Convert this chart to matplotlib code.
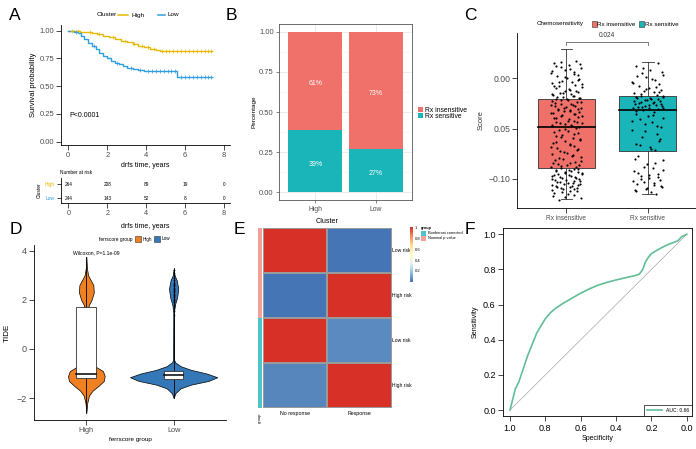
import numpy as np
import matplotlib.pyplot as plt
from matplotlib.colors import LinearSegmentedColormap, ListedColormap
from matplotlib.patches import Rectangle
from matplotlib.lines import Line2D

plt.rcParams['font.family'] = ['Liberation Sans', 'DejaVu Sans']

# ---- A : Kaplan-Meier ----
km_high_t = [0, 0.3, 0.6, 0.9, 1.2, 1.5, 1.8, 2.1, 2.4, 2.7, 3.0, 3.3, 3.6, 3.9, 4.2, 4.5, 4.7, 7.4]
km_high_s = [1.0, 0.995, 0.99, 0.985, 0.975, 0.965, 0.955, 0.94, 0.925, 0.91, 0.895, 0.88, 0.865,
             0.85, 0.835, 0.825, 0.812, 0.812]
km_low_t = [0, 0.3, 0.5, 0.65, 0.8, 1.0, 1.2, 1.4, 1.6, 1.8, 2.0, 2.2, 2.4, 2.6, 2.8, 3.0, 3.3,
            3.6, 3.9, 5.6, 7.4]
km_low_s = [1.0, 0.99, 0.975, 0.95, 0.92, 0.89, 0.86, 0.83, 0.80, 0.775, 0.75, 0.73, 0.71, 0.695,
            0.68, 0.665, 0.655, 0.645, 0.635, 0.578, 0.578]
cens_high = [0.2, 0.5, 1.1, 1.6, 2.3, 2.9, 3.4, 3.8, 4.1, 4.4, 4.8, 5.0, 5.2, 5.4, 5.6, 5.8, 6.0,
             6.2, 6.4, 6.6, 6.8, 7.0, 7.2, 7.35]
cens_low = [0.4, 1.3, 2.5, 3.2, 3.7, 4.1, 4.3, 4.5, 4.7, 4.9, 5.1, 5.3, 5.5, 5.8, 6.0, 6.2, 6.4,
            6.6, 6.8, 7.0, 7.2, 7.35]
risk_times = [0, 2, 4, 6, 8]
risk_high = [264, 208, 89, 19, 0]
risk_low = [244, 143, 52, 8, 0]

# ---- B : stacked percentage bars ----
b_groups = ['High', 'Low']
b_sensitive = [0.39, 0.27]
b_insensitive = [0.61, 0.73]
b_lab_sens = ['39%', '27%']
b_lab_insens = ['61%', '73%']

# ---- C : score boxplots ----
c_groups = ['Rx insensitive', 'Rx sensitive']
c_stats = [  # whislo, q1, med, q3, whishi
    [-0.120, -0.0895, -0.048, -0.0206, 0.0288],
    [-0.115, -0.0723, -0.0315, -0.0176, 0.0159],
]
c_insens = [0.017, 0.015, 0.013, 0.011, 0.010, 0.008, 0.006, 0.005, 0.003, 0.002, 0.000, -0.001,
            -0.003, -0.004, -0.005, -0.007, -0.008, -0.009, -0.010, -0.012, -0.013, -0.014,
            -0.015, -0.016, -0.017, -0.018, -0.019, -0.020,
            -0.021, -0.022, -0.023, -0.024, -0.026, -0.027, -0.028, -0.029, -0.030, -0.031,
            -0.032, -0.033, -0.034, -0.035, -0.036, -0.038, -0.039, -0.040, -0.041, -0.042,
            -0.043, -0.044, -0.045, -0.046, -0.047,
            -0.049, -0.051, -0.052, -0.054, -0.056, -0.057, -0.059, -0.061, -0.062, -0.064,
            -0.066, -0.067, -0.069, -0.071, -0.072, -0.074, -0.075, -0.077, -0.078, -0.080,
            -0.081, -0.083, -0.084, -0.085, -0.086, -0.087, -0.088,
            -0.090, -0.091, -0.092, -0.093, -0.094, -0.095, -0.096, -0.097, -0.098, -0.099,
            -0.100, -0.101, -0.102, -0.103, -0.104, -0.105, -0.106, -0.107, -0.108, -0.109,
            -0.110, -0.111, -0.112, -0.113, -0.115, -0.117, -0.119, -0.121]
c_insens_2 = [0.016, 0.014, 0.012, 0.009, 0.007, 0.004, 0.001, -0.002, -0.004, -0.006, -0.008,
              -0.011, -0.013, -0.015, -0.016, -0.018, -0.019, -0.020, -0.021, -0.022, -0.024,
              -0.025,
              -0.026, -0.027, -0.028, -0.030, -0.031, -0.032, -0.033, -0.035, -0.036, -0.037,
              -0.038, -0.040, -0.042, -0.043, -0.044, -0.046, -0.047, -0.048,
              -0.050, -0.053, -0.055, -0.058, -0.060, -0.063, -0.065, -0.068, -0.070, -0.073,
              -0.076, -0.079, -0.082, -0.084, -0.086, -0.088, -0.089,
              -0.090, -0.091, -0.092, -0.093, -0.094, -0.095, -0.096, -0.097, -0.098, -0.099,
              -0.100, -0.101, -0.102, -0.103, -0.104, -0.105, -0.106, -0.107, -0.108, -0.109,
              -0.110, -0.112, -0.114, -0.116, -0.118]
c_sens = [0.015, 0.012, 0.008, 0.005, 0.003, 0.001, -0.002, -0.004, -0.006, -0.008, -0.010,
          -0.012, -0.013, -0.014, -0.015, -0.017,
          -0.018, -0.019, -0.020, -0.021, -0.022, -0.023, -0.024, -0.025, -0.026, -0.027,
          -0.028, -0.028, -0.029, -0.030, -0.030, -0.031,
          -0.032, -0.034, -0.036, -0.038, -0.040, -0.041, -0.043, -0.045, -0.048, -0.051,
          -0.055, -0.058, -0.062, -0.065, -0.068, -0.071,
          -0.077, -0.081, -0.085, -0.089, -0.092, -0.095, -0.097, -0.099, -0.101, -0.103,
          -0.105, -0.106, -0.108, -0.110, -0.111, -0.113, -0.115]
c_sens_2 = [0.010, 0.006, 0.002, -0.001, -0.005, -0.009, -0.011, -0.014, -0.016,
            -0.018, -0.019, -0.020, -0.021, -0.022, -0.023, -0.024, -0.025, -0.026, -0.027,
            -0.029, -0.030,
            -0.033, -0.037, -0.042, -0.047, -0.052, -0.060, -0.066, -0.070,
            -0.080, -0.084, -0.088, -0.091, -0.094, -0.096, -0.098, -0.100, -0.102, -0.104,
            -0.107, -0.109, -0.112]
c_jitter = [0.12, -0.15, 0.03, -0.07, 0.18, -0.02, 0.09, -0.19, 0.14, -0.11, 0.01, 0.16, -0.05,
            0.07, -0.17, 0.11, -0.09, 0.19, -0.13, 0.04, -0.01, 0.15, -0.08, 0.06, -0.16, 0.10,
            -0.04, 0.17, -0.12, 0.02, -0.18, 0.13, -0.06, 0.08, -0.14, 0.00, 0.18, -0.10, 0.05,
            -0.03, 0.16, -0.19, 0.11, -0.07, 0.14, -0.15, 0.03, 0.09, -0.12, 0.19, -0.01, 0.06,
            -0.17, 0.12, -0.09, 0.02, 0.15, -0.05, -0.13, 0.08, 0.17, -0.02, -0.16, 0.04, 0.10,
            -0.11, 0.13, -0.08, 0.01, -0.18, 0.07, 0.18, -0.04, -0.14, 0.11, 0.05, -0.10, 0.16,
            -0.06, -0.19, 0.09, 0.03, -0.12, 0.14, -0.02, 0.19, -0.15, 0.06, -0.08, 0.12, -0.17,
            0.00, 0.17, -0.11, 0.08, -0.03, 0.15, -0.13, 0.04, -0.07, 0.10, -0.18, 0.13, -0.05,
            0.02, -0.16, 0.18, -0.09, 0.07, -0.01]
c_jitter_2 = [-0.06, 0.17, -0.13, 0.05, -0.18, 0.10, -0.02, 0.14, -0.09, 0.19, -0.15, 0.03,
              0.12, -0.04, -0.17, 0.08, -0.11, 0.16, 0.01, -0.07, 0.18, -0.14, 0.06, -0.19,
              0.11, -0.03, 0.15, -0.10, 0.04, -0.16, 0.09, -0.05, 0.19, -0.12, 0.02, 0.13,
              -0.08, -0.18, 0.07, 0.16, -0.01, -0.15, 0.10, -0.06, 0.17, -0.12, 0.04, -0.19,
              0.14, -0.03, 0.08, -0.09, 0.18, -0.16, 0.01, 0.12, -0.07, 0.15, -0.13, 0.06,
              -0.02, 0.19, -0.10, 0.03, -0.17, 0.11, -0.05, 0.16, -0.14, 0.09, -0.08, 0.02,
              0.17, -0.18, 0.07, -0.11, 0.13, -0.04, 0.05, -0.15, 0.10, -0.01]

# ---- D : TIDE violins ----
d_groups = ['High', 'Low']
vio_high_y = [-2.6, -2.2, -1.9, -1.7, -1.5, -1.3, -1.1, -0.9, -0.75, -0.6, -0.45, 0.0, 1.0, 1.5,
              1.8, 2.0, 2.3, 2.6, 2.8, 3.0, 3.3, 3.75]
vio_high_w = [0.0, 0.01, 0.03, 0.07, 0.14, 0.20, 0.21, 0.19, 0.12, 0.04, 0.012, 0.006, 0.006,
              0.012, 0.03, 0.06, 0.085, 0.08, 0.05, 0.02, 0.006, 0.0]
vio_low_y = [-2.0, -1.8, -1.6, -1.45, -1.3, -1.15, -1.0, -0.85, -0.7, -0.55, -0.45, 1.5, 1.8,
             2.1, 2.45, 2.8, 3.0, 3.25]
vio_low_w = [0.0, 0.02, 0.08, 0.20, 0.40, 0.50, 0.38, 0.20, 0.08, 0.02, 0.006, 0.004, 0.015,
             0.04, 0.053, 0.035, 0.01, 0.0]
d_box = [[-1.17, -1.0, 1.72], [-1.22, -1.07, -0.89]]  # q1, med, q3
d_line = [[-2.6, 3.75], [-2.0, 3.3]]
low_out = [1.38, 1.55, 1.7, 1.8, 1.9, 1.95, 2.0, 2.05, 2.1, 2.15, 2.2, 2.25, 2.3, 2.35, 2.4,
           2.45, 2.5, 2.55, 2.6, 2.65, 2.7, 2.8, 2.9, 3.0, 3.1, 3.2]

# ---- E : heatmap ----
e_rows = ['Low risk', 'High risk', 'Low risk', 'High risk']
e_cols = ['No response', 'Response']
e_vals = [[1.0, 0.0], [0.0, 1.0], [1.0, 0.05], [0.04, 1.0]]
e_group = [1, 1, 0, 0]  # 1 = Nominal p value, 0 = Bonferroni corrected

# ---- F : ROC ----
roc_spec = [1.0, 0.99, 0.98, 0.97, 0.95, 0.93, 0.91, 0.90, 0.88, 0.86, 0.85, 0.83, 0.80, 0.77,
            0.74, 0.70, 0.66, 0.60, 0.55, 0.50, 0.45, 0.40, 0.35, 0.30, 0.27, 0.255, 0.245,
            0.235, 0.22, 0.20, 0.17, 0.14, 0.10, 0.07, 0.05, 0.03, 0.0]
roc_sens = [0.0, 0.04, 0.08, 0.12, 0.16, 0.22, 0.28, 0.31, 0.36, 0.41, 0.436, 0.47, 0.52, 0.555,
            0.58, 0.607, 0.63, 0.665, 0.69, 0.711, 0.727, 0.74, 0.752, 0.763, 0.772, 0.79, 0.81,
            0.84, 0.865, 0.89, 0.908, 0.925, 0.944, 0.955, 0.963, 0.985, 1.0]

W, H = 696, 449
fig = plt.figure(figsize=(W / 100, H / 100), dpi=100)


def px_axes(x0, y0, x1, y1):
    return fig.add_axes([x0 / W, 1 - y1 / H, (x1 - x0) / W, (y1 - y0) / H])


def ftext(x, y, s, **kw):
    kw.setdefault('ha', 'center')
    kw.setdefault('va', 'center')
    fig.text(x / W, 1 - y / H, s, **kw)


def fline(x0, x1, y, **kw):
    fig.add_artist(Line2D([x0 / W, x1 / W], [1 - y / H, 1 - y / H], transform=fig.transFigure, **kw))


def fsquare(x, y, size, color, **kw):
    fig.add_artist(Rectangle((x / W, 1 - (y + size) / H), size / W, size / H,
                             transform=fig.transFigure, facecolor=color, **kw))


def classic(ax, fs, color='#4D4D4D'):
    for s in ['top', 'right']:
        ax.spines[s].set_visible(False)
    for s in ['left', 'bottom']:
        ax.spines[s].set_linewidth(0.6)
    ax.tick_params(labelsize=fs, width=0.5, length=3.5, pad=1.5, colors='black', labelcolor=color)


# panel letters
for lab, x, y in [('A', 15, 15), ('B', 231, 15), ('C', 470, 15),
                  ('D', 16, 230), ('E', 239, 230), ('F', 470, 230)]:
    ftext(x, y, lab, fontsize=12.5)

# ===== A =====
gold, blue = '#E7B800', '#2E9FDF'
ax = px_axes(61, 25, 230, 145)
ax.step(km_high_t, km_high_s, where='post', color=gold, lw=1.0)
ax.step(km_low_t, km_low_s, where='post', color=blue, lw=1.0)
for ct, tt, ss, col in [(cens_high, km_high_t, km_high_s, gold), (cens_low, km_low_t, km_low_s, blue)]:
    idx = np.searchsorted(tt, ct, side='right') - 1
    ax.plot(ct, np.array(ss)[idx], '+', color=col, ms=2.2, mew=0.5)
ax.set_xlim(-0.375, 8.31)
ax.set_ylim(-0.03, 1.05)
ax.set_xticks(risk_times)
ax.set_yticks([0, 0.25, 0.5, 0.75, 1.0])
ax.set_yticklabels(['0.00', '0.25', '0.50', '0.75', '1.00'])
classic(ax, 5.5)
ax.set_xlabel('drfs time, years', fontsize=5, labelpad=2)
ax.set_ylabel('Survival probability', fontsize=5.5, labelpad=2)
ax.text(0.05, 0.22, 'P<0.0001', fontsize=5)
ftext(97, 15, 'Cluster', fontsize=4.6, ha='left')
fline(118, 128, 15, color=gold, lw=1.1)
ftext(131, 15, 'High', fontsize=4.6, ha='left')
fline(158, 165, 15, color=blue, lw=1.1)
ftext(168, 15, 'Low', fontsize=4.6, ha='left')

# risk table
rt = px_axes(61, 178, 230, 203)
rt.set_xlim(-0.375, 8.31)
rt.set_ylim(-0.357, 1.43)
for t, a, b in zip(risk_times, risk_high, risk_low):
    rt.text(t, 1, str(a), fontsize=3.4, ha='center', va='center')
    rt.text(t, 0, str(b), fontsize=3.4, ha='center', va='center')
rt.set_xticks(risk_times)
rt.set_yticks([1, 0])
rt.set_yticklabels(['High', 'Low'])
classic(rt, 5.2)
rt.tick_params(axis='y', labelsize=3.5, length=3)
rt.get_yticklabels()[0].set_color(gold)
rt.get_yticklabels()[1].set_color(blue)
rt.set_ylabel('Cluster', fontsize=3.5, labelpad=2)
ftext(60, 173, 'Number at risk', fontsize=3.5, ha='left')
ftext(145, 226, 'drfs time, years', fontsize=5)

# ===== B =====
red, teal = '#EF7169', '#19B5B9'
bx = px_axes(279.3, 24, 411.7, 200)
xpos = np.arange(1, len(b_groups) + 1)
for yv in [0.125, 0.375, 0.625, 0.875]:
    bx.axhline(yv, color='#F4F4F4', lw=0.4, zorder=0)
for yv in [0, 0.25, 0.5, 0.75, 1.0]:
    bx.axhline(yv, color='#E8E8E8', lw=0.6, zorder=0)
for xv in xpos:
    bx.axvline(xv, color='#E8E8E8', lw=0.6, zorder=0)
bx.bar(xpos, b_sensitive, width=0.9, color=teal, zorder=2)
bx.bar(xpos, b_insensitive, bottom=b_sensitive, width=0.9, color=red, zorder=2)
for x, s, i, ls, li in zip(xpos, b_sensitive, b_insensitive, b_lab_sens, b_lab_insens):
    bx.text(x, s / 2 - 0.02, ls, color='white', fontsize=5, ha='center', va='center', zorder=3)
    bx.text(x, s + i / 2 - 0.02, li, color='white', fontsize=5, ha='center', va='center', zorder=3)
bx.set_xlim(0.4, 2.6)
bx.set_ylim(-0.048, 1.048)
bx.set_xticks(xpos)
bx.set_xticklabels(b_groups)
bx.set_yticks([0, 0.25, 0.5, 0.75, 1.0])
bx.set_yticklabels(['0.00', '0.25', '0.50', '0.75', '1.00'])
for s in bx.spines.values():
    s.set_color('#555555')
    s.set_linewidth(0.6)
bx.tick_params(labelsize=5.5, width=0.5, length=2.5, pad=1.5, labelcolor='#4D4D4D', color='#555555')
bx.tick_params(axis='x', labelsize=4.9)
bx.set_ylabel('Percentage', fontsize=4.6, labelpad=2)
fsquare(418.3, 107.3, 5, red)
fsquare(418.3, 113.3, 5, teal)
ftext(425, 110, 'Rx insensitive', fontsize=4.9, ha='left')
ftext(425, 116, 'Rx sensitive', fontsize=4.9, ha='left')

# ===== C =====
cx = px_axes(517.3, 33, 696.8, 208)
for i, (st, col) in enumerate(zip(c_stats, [red, teal])):
    x = i + 1
    lo, q1, med, q3, hi = st
    cx.plot([x, x], [lo, hi], color='#333333', lw=0.6, zorder=1)
    cx.plot([x - 0.07, x + 0.07], [lo, lo], color='#333333', lw=0.6, zorder=1)
    cx.plot([x - 0.07, x + 0.07], [hi, hi], color='#333333', lw=0.6, zorder=1)
    cx.add_patch(Rectangle((x - 0.35, q1), 0.7, q3 - q1, facecolor=col, edgecolor='#333333',
                           lw=0.6, zorder=2))
    cx.plot([x - 0.35, x + 0.35], [med, med], color='black', lw=1.2, zorder=3)
for yv, jit, base in [(c_insens, c_jitter, 1), (c_insens_2, c_jitter_2, 1),
                      (c_sens, c_jitter, 2), (c_sens_2, c_jitter_2, 2)]:
    cx.scatter(base + np.array(jit[:len(yv)]), yv, s=2.4, color='black', lw=0, zorder=4)
cx.plot([1, 1, 2, 2], [0.0331, 0.0364, 0.0364, 0.0331], color='#444444', lw=0.5)
cx.text(1.5, 0.0395, '0.024', fontsize=4.7, ha='center', va='bottom', color='#333333')
cx.set_xlim(0.4, 2.6)
cx.set_ylim(-0.129, 0.045)
cx.set_xticks([1, 2])
cx.set_xticklabels(c_groups)
cx.set_yticks([-0.10, -0.05, 0.0])
cx.set_yticklabels(['\u22120.10', '0.05', '0.00'])
classic(cx, 6.2)
cx.tick_params(axis='x', labelsize=4.7)
cx.set_ylabel('Score', fontsize=5.5, labelpad=3, color='#333333')
ftext(537, 24, 'Chemosensitivity', fontsize=4.5, ha='left')
fsquare(591.7, 21.5, 5, red, edgecolor='#333333', lw=0.4)
ftext(597, 24, 'Rx insensitive', fontsize=4.5, ha='left')
fsquare(639, 21.5, 5, teal, edgecolor='#333333', lw=0.4)
ftext(645, 24, 'Rx sensitive', fontsize=4.5, ha='left')

# ===== D =====
orange, dblue = '#F08122', '#3478B8'
dx = px_axes(34, 245, 226, 420)
for i, (vy, vw, col) in enumerate([(vio_high_y, vio_high_w, orange), (vio_low_y, vio_low_w, dblue)]):
    x = i + 1
    vy, vw = np.array(vy), np.array(vw)
    dx.fill_betweenx(vy, x - vw, x + vw, facecolor=col, edgecolor='black', lw=0.5, zorder=1)
    dx.plot([x, x], d_line[i], color='black', lw=0.6, zorder=2)
    q1, med, q3 = d_box[i]
    bw = 0.23 if i == 0 else 0.21
    dx.add_patch(Rectangle((x - bw / 2, q1), bw, q3 - q1, facecolor='white', edgecolor='#333333',
                           lw=0.6, zorder=3))
    dx.plot([x - bw / 2, x + bw / 2], [med, med], color='black', lw=1.1, zorder=4)
dx.scatter([2] * len(low_out), low_out, s=1.5, color='black', lw=0, zorder=2)
dx.text(1.11, 3.9, 'Wilcoxon, P=1.1e-09', fontsize=3.6, ha='center', va='center')
dx.set_xlim(0.4, 2.6)
dx.set_ylim(-2.89, 4.23)
dx.set_xticks([1, 2])
dx.set_xticklabels(d_groups)
dx.set_yticks([-2, 0, 2, 4])
classic(dx, 6.5)
dx.tick_params(axis='x', labelsize=5.3)
dx.set_xlabel('ferrscore group', fontsize=4.6, labelpad=2)
dx.set_ylabel('TIDE', fontsize=5.8, labelpad=4)
ftext(99, 239, 'ferrscore group', fontsize=3.5, ha='left')
fsquare(135, 236, 6, orange, edgecolor='#333333', lw=0.4)
ftext(143, 239, 'High', fontsize=3.3, ha='left')
fsquare(153.5, 236, 6, dblue, edgecolor='#333333', lw=0.4)
ftext(162, 239, 'Low', fontsize=3.3, ha='left')

# ===== E =====
cmap = LinearSegmentedColormap.from_list('rdylbu', ['#4575B4', '#91BFDB', '#E0F3F8', '#FFFFBF',
                                                     '#FEE090', '#FC8D59', '#D73027'])
ex = px_axes(262.7, 227.7, 391.7, 408.3)
mesh = ex.pcolormesh(np.array(e_vals), cmap=cmap, vmin=0, vmax=1, edgecolors='#9A9A9A', lw=0.3)
ex.set_ylim(len(e_rows), 0)
ex.set_axis_off()
for r, lab in enumerate(e_rows):
    ex.text(2.01, r + 0.5, lab, fontsize=3.6, ha='left', va='center')
for c, lab in enumerate(e_cols):
    ex.text(c + 0.5, 4.07, lab, fontsize=3.8, ha='center', va='top')
ex.text(1.0, -0.06, 'Cluster', fontsize=5.2, ha='center', va='bottom')
ga = px_axes(257.7, 227.7, 262, 408.3)
ga.pcolormesh(np.array(e_group).reshape(-1, 1), cmap=ListedColormap(['#4DC4C8', '#F4A09A']),
              vmin=0, vmax=1)
ga.set_ylim(len(e_group), 0)
ga.set_axis_off()
ftext(260, 418, 'group', fontsize=3, rotation=90)
cax = px_axes(410, 227.4, 413, 281.9)
cb = fig.colorbar(mesh, cax=cax, ticks=[0.2, 0.4, 0.6, 0.8, 1.0])
cb.outline.set_visible(False)
cb.ax.set_yticklabels(['0.2', '0.4', '0.6', '0.8', '1'])
cb.ax.tick_params(labelsize=3, length=0, pad=1.5)
ftext(420.7, 228, 'group', fontsize=2.8, ha='left', fontweight='bold')
fsquare(420.7, 230.5, 5, '#4DC4C8')
fsquare(420.7, 235.8, 5, '#F4A09A')
ftext(427.5, 233, 'Bonferroni corrected', fontsize=2.8, ha='left')
ftext(427.5, 238.3, 'Nominal p value', fontsize=2.8, ha='left')

# ===== F =====
green = '#62BE96'
fx = px_axes(503.3, 228.3, 691.7, 416)
fx.plot([1, 0], [0, 1], color='#A8A8A8', lw=0.5)
fx.plot(roc_spec, roc_sens, color=green, lw=1.2, label='AUC: 0.66')
fx.set_xlim(1.038, -0.028)
fx.set_ylim(-0.034, 1.034)
fx.set_xticks([1.0, 0.8, 0.6, 0.4, 0.2, 0.0])
fx.set_yticks([0.0, 0.2, 0.4, 0.6, 0.8, 1.0])
for s in fx.spines.values():
    s.set_linewidth(0.6)
fx.tick_params(labelsize=6.5, width=0.5, length=3.5, pad=2)
fx.set_xlabel('Specificity', fontsize=5, labelpad=2)
fx.set_ylabel('Sensitivity', fontsize=5.2, labelpad=3)
leg = fx.legend(loc='lower right', fontsize=3.6, frameon=True, fancybox=False, borderaxespad=0,
                handlelength=3, edgecolor='black', borderpad=0.6)
leg.get_frame().set_linewidth(0.6)

fig.savefig('out.png', dpi=100)
